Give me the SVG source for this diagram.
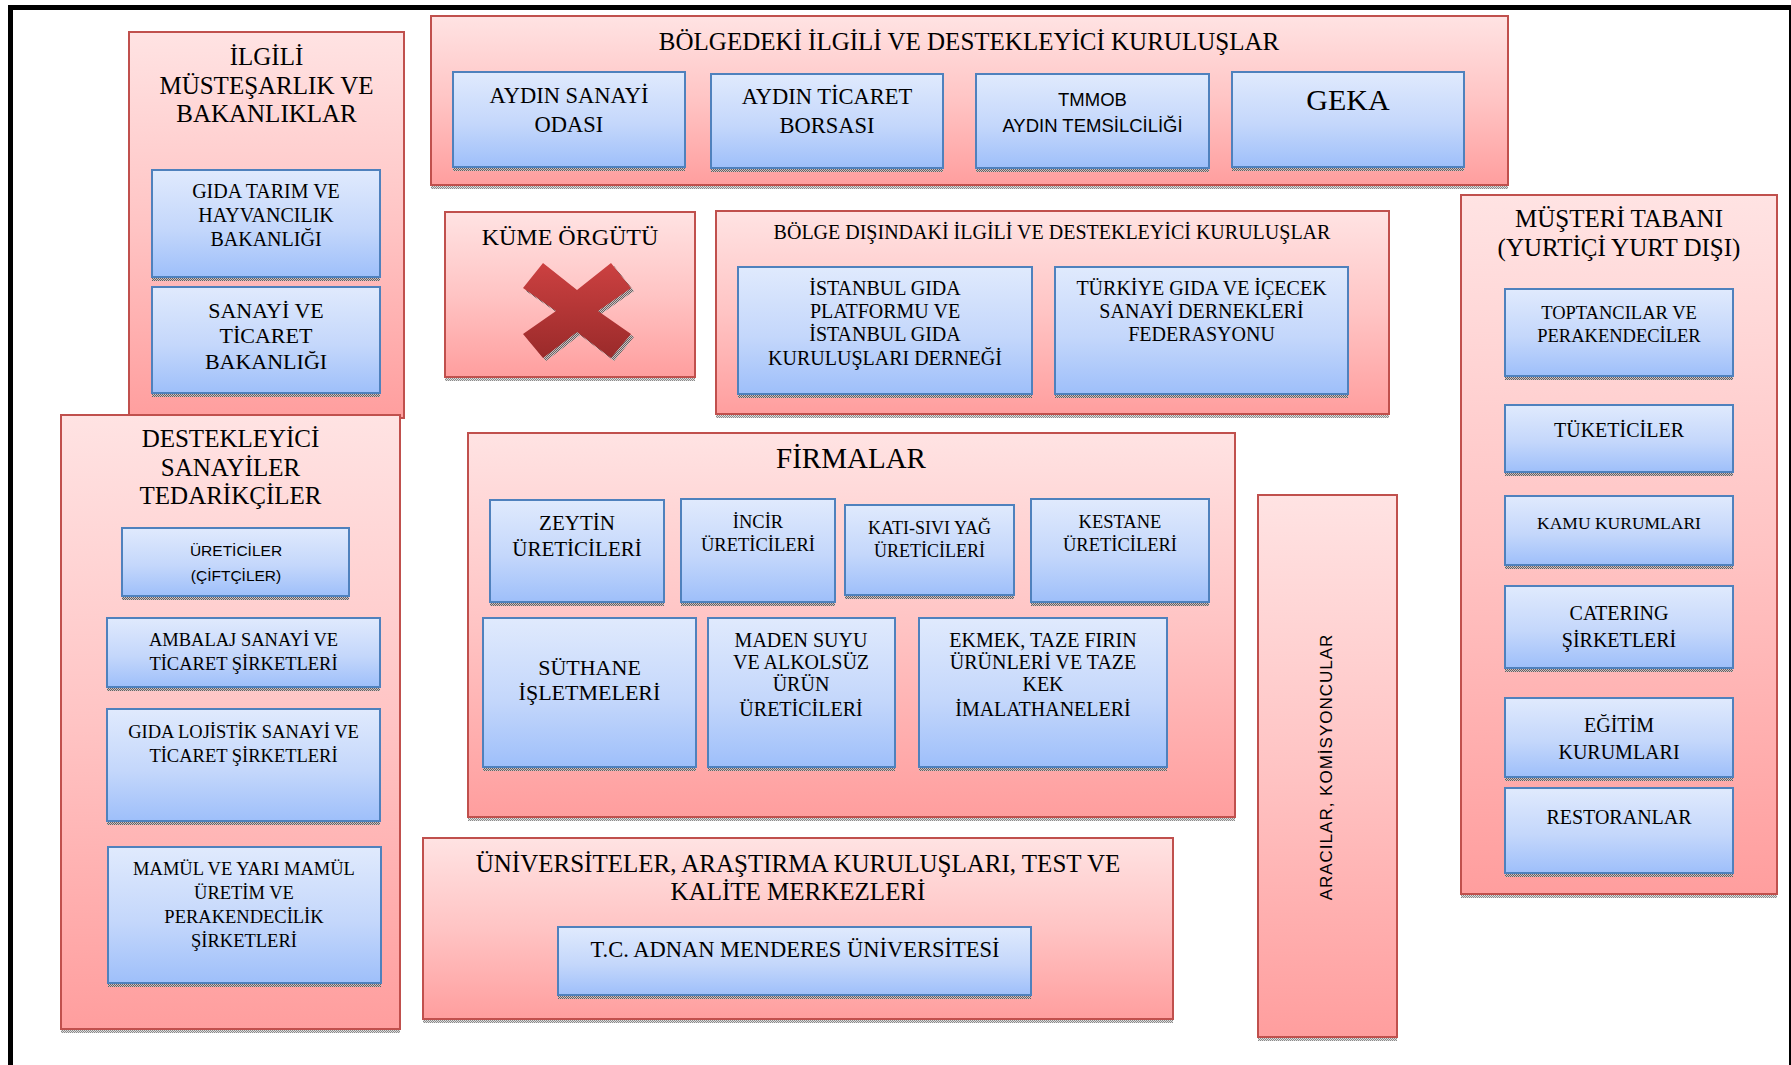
<svg xmlns="http://www.w3.org/2000/svg" width="1791" height="1065" viewBox="0 0 1791 1065">
<defs>
<linearGradient id="gPink" x1="0" y1="0" x2="0" y2="1">
<stop offset="0" stop-color="#ffe3e3"/><stop offset="0.5" stop-color="#ffc4c4"/><stop offset="1" stop-color="#ff9e9e"/>
</linearGradient>
<linearGradient id="gBlue" x1="0" y1="0" x2="0" y2="1">
<stop offset="0" stop-color="#e0eafd"/><stop offset="0.55" stop-color="#c4d7fb"/><stop offset="1" stop-color="#9ebffa"/>
</linearGradient>
<linearGradient id="gRed" x1="0" y1="0" x2="0" y2="1">
<stop offset="0" stop-color="#cc4141"/><stop offset="1" stop-color="#9a2a2a"/>
</linearGradient>
<pattern id="hatch" width="2" height="2" patternUnits="userSpaceOnUse">
<rect width="2" height="2" fill="#c9c3c3"/><rect width="1" height="1" fill="#6b5f5f"/><rect x="1" y="1" width="1" height="1" fill="#6b5f5f"/>
</pattern>
<pattern id="hatchL" width="2" height="2" patternUnits="userSpaceOnUse">
<rect width="2" height="2" fill="#dedede"/><rect width="1" height="1" fill="#8a8a8a"/><rect x="1" y="1" width="1" height="1" fill="#8a8a8a"/>
</pattern>
</defs>
<style>
.outer{fill:url(#gPink);stroke:#c0504d;stroke-width:2}
.inner{fill:url(#gBlue);stroke:#4f81bd;stroke-width:2}
.sh{fill:url(#hatch)}
.shL{fill:url(#hatchL)}
text{font-family:"Liberation Serif","Times New Roman",serif;fill:#000;text-anchor:middle}
.sans{font-family:"Liberation Sans",Arial,sans-serif}
</style>
<rect width="1791" height="1065" fill="#fff"/>
<g id="frame">
<rect x="8" y="5" width="1783" height="5" fill="#000"/>
<rect x="8" y="5" width="5" height="1060" fill="#000"/>
<rect x="1789" y="5" width="2" height="1060" fill="#000"/>
</g>
<g id="connectors"></g>

<g id="ilgili">
<rect class="outer" x="129" y="32" width="275" height="386"/>
<text font-size="25"><tspan x="266.5" y="65">İLGİLİ</tspan><tspan x="266.5" y="94">MÜSTEŞARLIK VE</tspan><tspan x="266.5" y="122">BAKANLIKLAR</tspan></text>
<g id="gida-tarim">
<rect class="sh" x="152" y="278" width="228" height="3"/>
<rect class="inner" x="152" y="170" width="228" height="107"/>
<text font-size="20"><tspan x="266" y="198">GIDA TARIM VE</tspan><tspan x="266" y="222">HAYVANCILIK</tspan><tspan x="266" y="246">BAKANLIĞI</tspan></text>
</g>
<g id="sanayi-ticaret">
<rect class="sh" x="152" y="394" width="228" height="3"/>
<rect class="inner" x="152" y="287" width="228" height="106"/>
<text font-size="22"><tspan x="266" y="318">SANAYİ VE</tspan><tspan x="266" y="343">TİCARET</tspan><tspan x="266" y="369">BAKANLIĞI</tspan></text>
</g>
</g>

<g id="destekleyici">
<rect class="shL" x="61" y="1030" width="339" height="3"/>
<rect class="outer" x="61" y="415" width="339" height="614"/>
<text font-size="25"><tspan x="230.5" y="447">DESTEKLEYİCİ</tspan><tspan x="230.5" y="476">SANAYİLER</tspan><tspan x="230.5" y="504">TEDARİKÇİLER</tspan></text>
<g id="ureticiler">
<rect class="sh" x="122" y="597" width="227" height="3"/>
<rect class="inner" x="122" y="528" width="227" height="68"/>
<text class="sans" font-size="15.5"><tspan x="236" y="556">ÜRETİCİLER</tspan><tspan x="236" y="581">(ÇİFTÇİLER)</tspan></text>
</g>
<g id="ambalaj">
<rect class="sh" x="107" y="688" width="273" height="3"/>
<rect class="inner" x="107" y="618" width="273" height="69"/>
<text font-size="18.5"><tspan x="243.5" y="646">AMBALAJ SANAYİ VE</tspan><tspan x="243.5" y="670">TİCARET ŞİRKETLERİ</tspan></text>
</g>
<g id="lojistik">
<rect class="sh" x="107" y="822" width="273" height="3"/>
<rect class="inner" x="107" y="709" width="273" height="112"/>
<text font-size="18.5"><tspan x="243.5" y="738">GIDA LOJİSTİK SANAYİ VE</tspan><tspan x="243.5" y="762">TİCARET ŞİRKETLERİ</tspan></text>
</g>
<g id="mamul">
<rect class="sh" x="108" y="984" width="273" height="3"/>
<rect class="inner" x="108" y="847" width="273" height="136"/>
<text font-size="18.5"><tspan x="244" y="875">MAMÜL VE YARI MAMÜL</tspan><tspan x="244" y="899">ÜRETİM VE</tspan><tspan x="244" y="923">PERAKENDECİLİK</tspan><tspan x="244" y="947">ŞİRKETLERİ</tspan></text>
</g>
</g>

<g id="bolgedeki">
<rect class="shL" x="431" y="186" width="1077" height="3"/>
<rect class="outer" x="431" y="16" width="1077" height="169"/>
<text font-size="25" x="969" y="49.5">BÖLGEDEKİ İLGİLİ VE DESTEKLEYİCİ KURULUŞLAR</text>
<g id="aso">
<rect class="sh" x="453" y="168" width="232" height="3"/>
<rect class="inner" x="453" y="72" width="232" height="95"/>
<text font-size="22.5"><tspan x="569" y="102.5">AYDIN SANAYİ</tspan><tspan x="569" y="131.5">ODASI</tspan></text>
</g>
<g id="atb">
<rect class="sh" x="711" y="169" width="232" height="3"/>
<rect class="inner" x="711" y="74" width="232" height="94"/>
<text font-size="22.5"><tspan x="827" y="104">AYDIN TİCARET</tspan><tspan x="827" y="133">BORSASI</tspan></text>
</g>
<g id="tmmob">
<rect class="sh" x="976" y="169" width="233" height="3"/>
<rect class="inner" x="976" y="74" width="233" height="94"/>
<text class="sans" font-size="18.5"><tspan x="1092.5" y="105.5">TMMOB</tspan><tspan x="1092.5" y="131.5">AYDIN TEMSİLCİLİĞİ</tspan></text>
</g>
<g id="geka">
<rect class="sh" x="1232" y="168" width="232" height="3"/>
<rect class="inner" x="1232" y="72" width="232" height="95"/>
<text font-size="30" x="1348" y="110">GEKA</text>
</g>
</g>

<g id="kume">
<rect class="shL" x="445" y="378" width="250" height="3"/>
<rect class="outer" x="445" y="212" width="250" height="165"/>
<text font-size="24" x="570" y="245">KÜME ÖRGÜTÜ</text>
<polygon class="sh" transform="translate(3,3)" points="543,263 577,290 611,263 631,288 598,311 631,334 611,358 577,332 543,358 523,334 556,311 523,288"/>
<polygon fill="url(#gRed)" points="543,263 577,290 611,263 631,288 598,311 631,334 611,358 577,332 543,358 523,334 556,311 523,288"/>
</g>

<g id="bolge-disi">
<rect class="shL" x="716" y="415" width="673" height="3"/>
<rect class="outer" x="716" y="211" width="673" height="203"/>
<text font-size="20" x="1052" y="239">BÖLGE DIŞINDAKİ İLGİLİ VE DESTEKLEYİCİ KURULUŞLAR</text>
<g id="istanbul">
<rect class="sh" x="738" y="395" width="294" height="3"/>
<rect class="inner" x="738" y="267" width="294" height="127"/>
<text font-size="20"><tspan x="885" y="295">İSTANBUL GIDA</tspan><tspan x="885" y="318">PLATFORMU VE</tspan><tspan x="885" y="341">İSTANBUL GIDA</tspan><tspan x="885" y="365">KURULUŞLARI DERNEĞİ</tspan></text>
</g>
<g id="tgdf">
<rect class="sh" x="1055" y="395" width="293" height="3"/>
<rect class="inner" x="1055" y="267" width="293" height="127"/>
<text font-size="20"><tspan x="1201.5" y="295">TÜRKİYE GIDA VE İÇECEK</tspan><tspan x="1201.5" y="318">SANAYİ DERNEKLERİ</tspan><tspan x="1201.5" y="341">FEDERASYONU</tspan></text>
</g>
</g>

<g id="musteri">
<rect class="shL" x="1461" y="895" width="316" height="3"/>
<rect class="outer" x="1461" y="195" width="316" height="699"/>
<text font-size="25"><tspan x="1619" y="227">MÜŞTERİ TABANI</tspan><tspan x="1619" y="256">(YURTİÇİ YURT DIŞI)</tspan></text>
<g id="toptancilar">
<rect class="sh" x="1505" y="377" width="228" height="3"/>
<rect class="inner" x="1505" y="289" width="228" height="87"/>
<text font-size="18.5"><tspan x="1619" y="319">TOPTANCILAR VE</tspan><tspan x="1619" y="342">PERAKENDECİLER</tspan></text>
</g>
<g id="tuketiciler">
<rect class="sh" x="1505" y="473" width="228" height="3"/>
<rect class="inner" x="1505" y="405" width="228" height="67"/>
<text font-size="20" x="1619" y="437">TÜKETİCİLER</text>
</g>
<g id="kamu">
<rect class="sh" x="1505" y="566" width="228" height="3"/>
<rect class="inner" x="1505" y="496" width="228" height="69"/>
<text font-size="17.5" x="1619" y="528.5">KAMU KURUMLARI</text>
</g>
<g id="catering">
<rect class="sh" x="1505" y="669" width="228" height="3"/>
<rect class="inner" x="1505" y="586" width="228" height="82"/>
<text font-size="20"><tspan x="1619" y="620">CATERING</tspan><tspan x="1619" y="647">ŞİRKETLERİ</tspan></text>
</g>
<g id="egitim">
<rect class="sh" x="1505" y="778" width="228" height="3"/>
<rect class="inner" x="1505" y="698" width="228" height="79"/>
<text font-size="20"><tspan x="1619" y="732">EĞİTİM</tspan><tspan x="1619" y="759">KURUMLARI</tspan></text>
</g>
<g id="restoranlar">
<rect class="sh" x="1505" y="874" width="228" height="3"/>
<rect class="inner" x="1505" y="788" width="228" height="85"/>
<text font-size="20" x="1619" y="823.5">RESTORANLAR</text>
</g>
</g>

<g id="firmalar">
<rect class="shL" x="468" y="818" width="767" height="3"/>
<rect class="outer" x="468" y="433" width="767" height="384"/>
<text font-size="29" x="851" y="468">FİRMALAR</text>
<g id="zeytin">
<rect class="sh" x="490" y="603" width="174" height="3"/>
<rect class="inner" x="490" y="500" width="174" height="102"/>
<text font-size="21"><tspan x="577" y="530">ZEYTİN</tspan><tspan x="577" y="556">ÜRETİCİLERİ</tspan></text>
</g>
<g id="incir">
<rect class="sh" x="681" y="603" width="154" height="3"/>
<rect class="inner" x="681" y="499" width="154" height="103"/>
<text font-size="18.5"><tspan x="758" y="528">İNCİR</tspan><tspan x="758" y="551">ÜRETİCİLERİ</tspan></text>
</g>
<g id="kati-sivi">
<rect class="sh" x="845" y="596" width="169" height="3"/>
<rect class="inner" x="845" y="505" width="169" height="90"/>
<text font-size="18"><tspan x="929.5" y="534">KATI-SIVI YAĞ</tspan><tspan x="929.5" y="557">ÜRETİCİLERİ</tspan></text>
</g>
<g id="kestane">
<rect class="sh" x="1031" y="603" width="178" height="3"/>
<rect class="inner" x="1031" y="499" width="178" height="103"/>
<text font-size="18.5"><tspan x="1120" y="528">KESTANE</tspan><tspan x="1120" y="551">ÜRETİCİLERİ</tspan></text>
</g>
<g id="suthane">
<rect class="sh" x="483" y="768" width="213" height="3"/>
<rect class="inner" x="483" y="618" width="213" height="149"/>
<text font-size="22"><tspan x="589.5" y="675">SÜTHANE</tspan><tspan x="589.5" y="700">İŞLETMELERİ</tspan></text>
</g>
<g id="maden-suyu">
<rect class="sh" x="708" y="768" width="187" height="3"/>
<rect class="inner" x="708" y="618" width="187" height="149"/>
<text font-size="20"><tspan x="801" y="647">MADEN SUYU</tspan><tspan x="801" y="669">VE ALKOLSÜZ</tspan><tspan x="801" y="691">ÜRÜN</tspan><tspan x="801" y="716">ÜRETİCİLERİ</tspan></text>
</g>
<g id="ekmek">
<rect class="sh" x="919" y="768" width="248" height="3"/>
<rect class="inner" x="919" y="618" width="248" height="149"/>
<text font-size="20"><tspan x="1043" y="647">EKMEK, TAZE FIRIN</tspan><tspan x="1043" y="669">ÜRÜNLERİ VE TAZE</tspan><tspan x="1043" y="691">KEK</tspan><tspan x="1043" y="716">İMALATHANELERİ</tspan></text>
</g>
</g>

<g id="universiteler">
<rect class="shL" x="423" y="1020" width="750" height="3"/>
<rect class="outer" x="423" y="838" width="750" height="181"/>
<text font-size="25"><tspan x="798" y="872">ÜNİVERSİTELER, ARAŞTIRMA KURULUŞLARI, TEST VE</tspan><tspan x="798" y="900">KALİTE MERKEZLERİ</tspan></text>
<g id="adu">
<rect class="sh" x="558" y="996" width="473" height="3"/>
<rect class="inner" x="558" y="927" width="473" height="68"/>
<text font-size="22.5" x="795" y="957">T.C. ADNAN MENDERES ÜNİVERSİTESİ</text>
</g>
</g>

<g id="aracilar">
<rect class="shL" x="1258" y="1038" width="139" height="3"/>
<rect class="outer" x="1258" y="495" width="139" height="542"/>
<text class="sans" font-size="17" letter-spacing="1" fill="#222" transform="translate(1332,767) rotate(-90)" x="0" y="0">ARACILAR, KOMİSYONCULAR</text>
</g>
</svg>
